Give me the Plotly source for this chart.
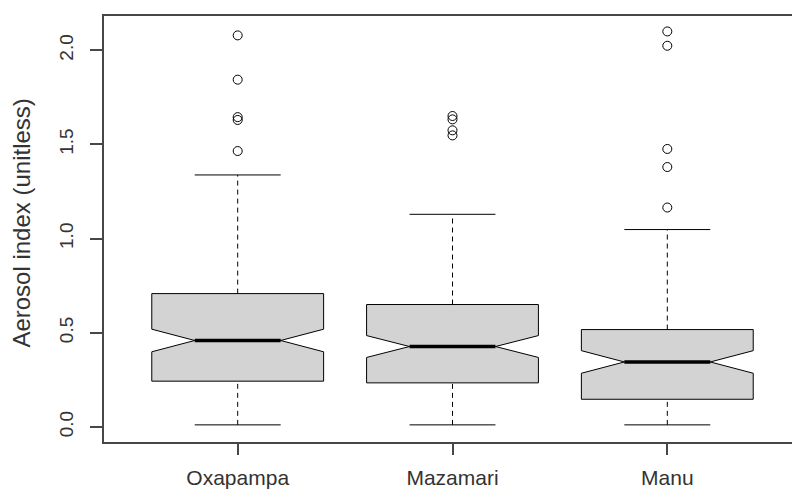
import plotly.graph_objects as go

# Aerosol index by site: five-number summaries, notch spans and outliers
sites = ["Oxapampa", "Mazamari", "Manu"]
positions = [1, 2, 3]
lower_whisker = [0.011, 0.011, 0.011]
q1 = [0.243, 0.234, 0.147]
median = [0.459, 0.427, 0.345]
q3 = [0.708, 0.650, 0.517]
upper_whisker = [1.338, 1.129, 1.048]
notch_span = [0.060, 0.058, 0.060]
outliers = [
    [2.079, 1.844, 1.645, 1.630, 1.465],
    [1.651, 1.633, 1.575, 1.548],
    [2.100, 2.024, 1.476, 1.380, 1.165],
]
y_ticks = [0.0, 0.5, 1.0, 1.5, 2.0]
y_tick_labels = ["0.0", "0.5", "1.0", "1.5", "2.0"]
y_title = "Aerosol index (unitless)"

BOX_WIDTH = 0.8
FRAME = "#474747"
TEXT = "#333333"

fig = go.Figure()

# notched boxes (whiskers drawn separately so they can be dashed);
# notchwidth 0.25 leaves the notch half as wide as the box
fig.add_trace(go.Box(
    x=positions,
    q1=q1, median=median, q3=q3,
    lowerfence=q1, upperfence=q3,
    notched=True, notchspan=notch_span, notchwidth=0.25,
    width=BOX_WIDTH, whiskerwidth=0,
    fillcolor="#d3d3d3",
    line=dict(color="black", width=1),
    boxpoints=False, hoverinfo="skip", showlegend=False,
))

for i, p in enumerate(positions):
    half_cap = BOX_WIDTH / 4
    # dashed whiskers
    fig.add_trace(go.Scatter(
        x=[p, p, None, p, p],
        y=[q3[i], upper_whisker[i], None, lower_whisker[i], q1[i]],
        mode="lines", line=dict(color="black", width=1, dash="5px,4px"),
        hoverinfo="skip", showlegend=False,
    ))
    # whisker caps
    fig.add_trace(go.Scatter(
        x=[p - half_cap, p + half_cap, None, p - half_cap, p + half_cap],
        y=[upper_whisker[i], upper_whisker[i], None, lower_whisker[i], lower_whisker[i]],
        mode="lines", line=dict(color="black", width=1),
        hoverinfo="skip", showlegend=False,
    ))
    # heavy median bar across the notch
    fig.add_trace(go.Scatter(
        x=[p - half_cap, p + half_cap],
        y=[median[i], median[i]],
        mode="lines", line=dict(color="black", width=3.5),
        hoverinfo="skip", showlegend=False,
    ))
    # outliers as open circles
    fig.add_trace(go.Scatter(
        x=[p] * len(outliers[i]), y=outliers[i],
        mode="markers",
        marker=dict(symbol="circle-open", size=9, color="black", line=dict(width=1)),
        hoverinfo="skip", showlegend=False,
    ))

fig.update_layout(
    width=792, height=490,
    margin=dict(l=104, r=0, t=16, b=48),
    paper_bgcolor="white", plot_bgcolor="white",
    font=dict(family="Liberation Sans, Arial, sans-serif", color=TEXT),
    showlegend=False,
    annotations=[dict(
        text=y_title, textangle=-90,
        xref="paper", yref="paper", x=-0.1192, y=0.515,
        xanchor="center", yanchor="middle", showarrow=False,
        font=dict(size=24, color=TEXT),
    )],
)
fig.update_xaxes(
    range=[0.3776, 3.5805], automargin=False,
    tickmode="array", tickvals=positions, ticktext=sites,
    ticks="outside", ticklen=11, tickwidth=1.5, tickcolor=FRAME,
    showline=True, linecolor=FRAME, linewidth=1.5, mirror=True,
    showgrid=False, zeroline=False,
    tickfont=dict(size=21), ticklabelstandoff=5,
)
fig.update_yaxes(
    range=[-0.08, 2.182], automargin=False,
    tickmode="array", tickvals=y_ticks, ticktext=y_tick_labels,
    tickangle=-90,
    ticks="outside", ticklen=12, tickwidth=1.5, tickcolor=FRAME,
    showline=True, linecolor=FRAME, linewidth=1.5,
    showgrid=False, zeroline=False,
    tickfont=dict(size=19), ticklabelstandoff=10,
)

fig.write_html("out.html")
